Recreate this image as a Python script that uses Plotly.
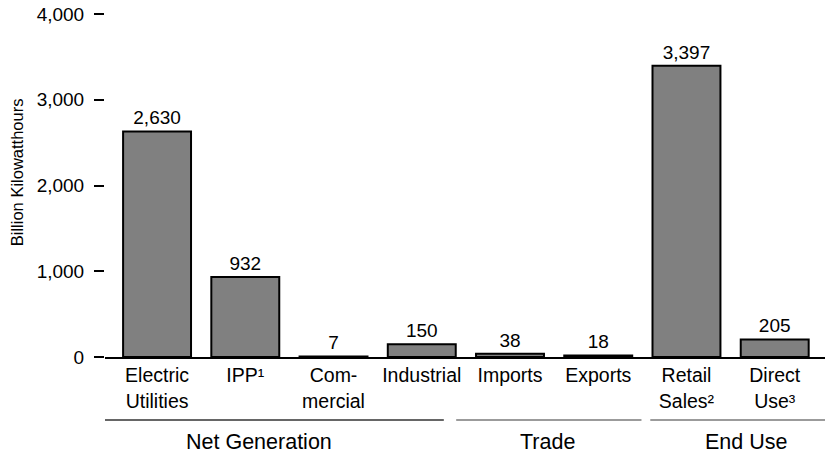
import plotly.graph_objects as go

categories = ["Electric<br>Utilities", "IPP¹", "Com-<br>mercial", "Industrial",
              "Imports", "Exports", "Retail<br>Sales²", "Direct<br>Use³"]
values = [2630, 932, 7, 150, 38, 18, 3397, 205]
value_labels = ["2,630", "932", "7", "150", "38", "18", "3,397", "205"]
groups = ["Net Generation", "Trade", "End Use"]
group_spans = [(-0.65, 3.25), (3.39, 5.49), (5.59, 7.9)]
group_label_x = [1.157, 4.42, 6.67]
group_line_colors = ["#333333", "#7a7a7a", "#7a7a7a"]
y_ticks = [0, 1000, 2000, 3000, 4000]
y_tick_labels = ["0", "1,000", "2,000", "3,000", "4,000"]

FONT = "Liberation Sans, Arial, sans-serif"
x = list(range(len(categories)))

fig = go.Figure()
fig.add_trace(go.Bar(
    x=x, y=values, text=value_labels, textposition="outside",
    textfont=dict(family=FONT, size=19, color="black"),
    marker=dict(color="#808080", line=dict(color="black", width=2)),
    cliponaxis=False, width=0.77, hoverinfo="skip",
))

shapes = []
annotations = []
for name, (a, b), lx, col in zip(groups, group_spans, group_label_x, group_line_colors):
    shapes.append(dict(type="line", xref="x", yref="paper", x0=a, x1=b,
                       y0=-0.184, y1=-0.184, line=dict(color=col, width=1.5)))
    annotations.append(dict(text=name, xref="x", yref="paper", x=lx,
                            y=-0.248, showarrow=False, yanchor="middle",
                            font=dict(family=FONT, size=21.5, color="black")))
annotations.append(dict(text="Billion Kilowatthours", xref="paper", yref="paper",
                        x=-0.123, y=0.54, textangle=-90, showarrow=False,
                        xanchor="center", yanchor="middle",
                        font=dict(family=FONT, size=16.5, color="black")))

fig.update_layout(
    width=825, height=456,
    margin=dict(l=105, r=0, t=14, b=99),
    paper_bgcolor="white", plot_bgcolor="white",
    showlegend=False,
    shapes=shapes, annotations=annotations,
    xaxis=dict(tickmode="array", tickvals=x, ticktext=categories,
               range=[-0.59, 7.57], showgrid=False, zeroline=False,
               showline=True, linecolor="black", linewidth=2, ticks="",
               tickfont=dict(family=FONT, size=19.5, color="black")),
    yaxis=dict(tickmode="array", tickvals=y_ticks, ticktext=y_tick_labels,
               range=[0, 4000], showgrid=False, zeroline=False, showline=False,
               ticks="outside", ticklen=10, tickwidth=1.5, tickcolor="black",
               ticklabelstandoff=6,
               tickfont=dict(family=FONT, size=19, color="black")),
)
fig.write_html("out.html", config={"displayModeBar": False},
               post_script="document.body.style.margin='0';")
